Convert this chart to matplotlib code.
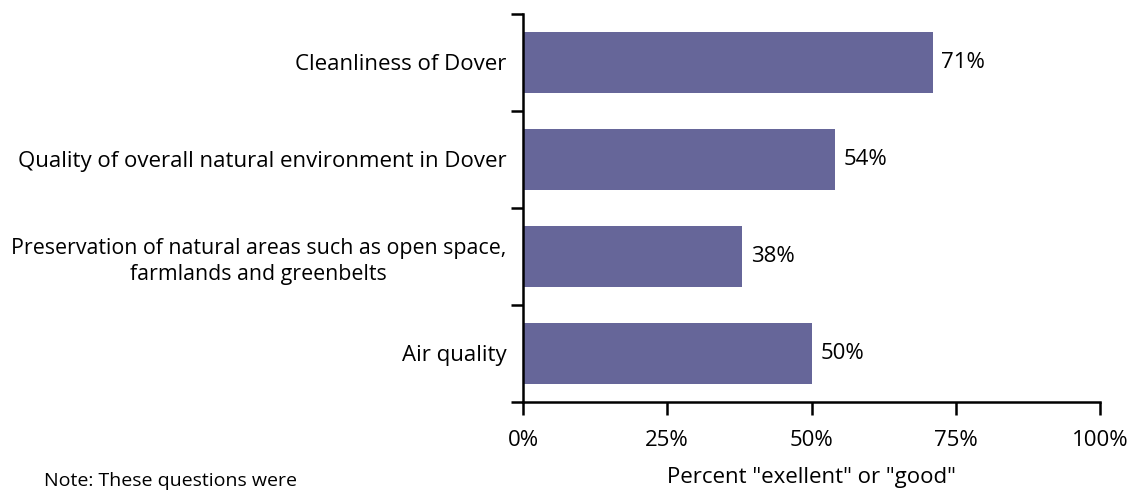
import matplotlib.pyplot as plt
import numpy as np
from matplotlib import rcParams

rcParams["font.family"] = ["Open Sans", "DejaVu Sans"]

# Data
categories = ["Cleanliness of Dover",
              "Quality of overall natural environment in Dover",
              "Preservation of natural areas such as open space,\nfarmlands and greenbelts",
              "Air quality"]
values = [71, 54, 38, 50]
xticks = [0, 25, 50, 75, 100]

bar_col = "#666699"
fs = 16

fig = plt.figure(figsize=(11.34, 4.93), dpi=100)
ax = fig.add_axes([523 / 1134, 1 - 402 / 493, 577 / 1134, 388 / 493])

y = np.arange(len(categories))
ax.barh(y, values, height=0.63, color=bar_col)
ax.set_ylim(len(categories) - 0.5, -0.5)
ax.set_xlim(0, 100)

# ticks between categories on y
ax.set_yticks(np.arange(-0.5, len(categories)), minor=False)
ax.set_yticklabels([])
ax.set_yticks(y, minor=True)
lbls = ax.set_yticklabels(categories, minor=True, fontsize=fs, ha="right",
                          multialignment="center", linespacing=1.3)
lbls[2].set_fontsize(15.4)  # long one, keep inside the figure
ax.tick_params(axis="y", which="minor", length=0, pad=12)
ax.tick_params(axis="y", which="major", length=9, width=1.8, direction="out")

ax.set_xticks(xticks)
ax.set_xticklabels(["{}%".format(t) for t in xticks], fontsize=fs)
ax.tick_params(axis="x", length=9, width=1.8, direction="out", pad=11)

for s in ["top", "right"]:
    ax.spines[s].set_visible(False)
for s in ["left", "bottom"]:
    ax.spines[s].set_linewidth(1.8)

for yi, v in zip(y, values):
    ax.text(v + 1.5, yi, "{}%".format(v), va="center", ha="left", fontsize=fs)

ax.set_xlabel('Percent "exellent" or "good"', fontsize=fs, labelpad=12)
fig.text(44 / 1134, 1 - 481 / 493, "Note: These questions were", fontsize=14, va="center")

fig.savefig("out.png", dpi=100)
